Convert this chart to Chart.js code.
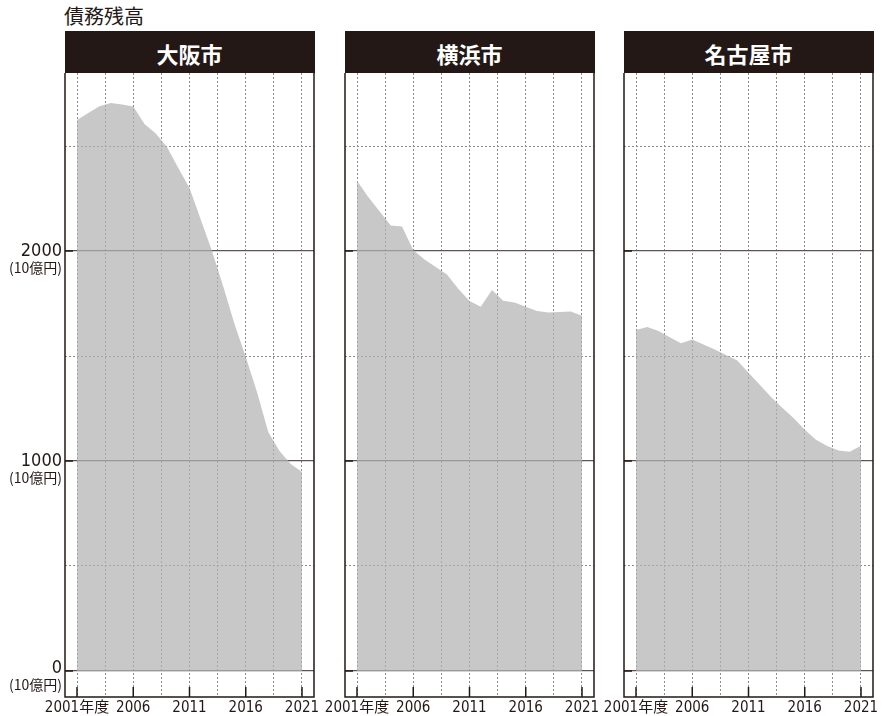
<!DOCTYPE html>
<html>
<head>
<meta charset="utf-8">
<script src="https://cdn.jsdelivr.net/npm/chart.js@4/dist/chart.umd.min.js"></script>
<style>
body { margin: 0; width: 888px; height: 716px; background: #fff; position: relative; overflow: hidden; font-family: "Noto Sans CJK JP", sans-serif; }
.title { position: absolute; left: 64px; top: 4px; font-size: 20px; line-height: 23px; color: #231815; }
.head { position: absolute; top: 31px; height: 42px; width: 250px; background: #231815; color: #fff; font-weight: bold; font-size: 22px; line-height: 44px; text-align: center; }
.box { position: absolute; top: 73px; height: 643px; }
</style>
</head>
<body>
<div class="title">債務残高</div>
<div class="head" style="left:64.5px">大阪市</div>
<div class="head" style="left:344.5px">横浜市</div>
<div class="head" style="left:623.5px">名古屋市</div>
<div class="box" style="left:0px;width:330px"><canvas id="c0"></canvas></div>
<div class="box" style="left:305px;width:305px"><canvas id="c1"></canvas></div>
<div class="box" style="left:584px;width:304px"><canvas id="c2"></canvas></div>
<script>
// fiscal years and debt balance (10億円)
const years = [2001, 2002, 2003, 2004, 2005, 2006, 2007, 2008, 2009, 2010, 2011,
               2012, 2013, 2014, 2015, 2016, 2017, 2018, 2019, 2020, 2021];
const osaka    = [2624, 2658, 2690, 2705, 2698, 2688, 2605, 2560, 2495, 2395, 2300,
                  2150, 2000, 1831, 1652, 1495, 1329, 1138, 1048, 986, 948];
const yokohama = [2335, 2258, 2189, 2122, 2117, 2005, 1960, 1924, 1888, 1821, 1762,
                  1735, 1814, 1763, 1755, 1735, 1714, 1707, 1710, 1712, 1692];
const nagoya   = [1624, 1638, 1619, 1589, 1561, 1579, 1555, 1531, 1505, 1479, 1420,
                  1363, 1305, 1254, 1205, 1149, 1101, 1071, 1050, 1044, 1073];
const cities = ['大阪市', '横浜市', '名古屋市'];

const xGrid = [2001, 2003.5, 2006, 2008.5, 2011, 2013.5, 2016, 2018.5, 2021];
const xLabelYears = [2001, 2006, 2011, 2016, 2021];
const yGrid = [0, 500, 1000, 1500, 2000, 2500];
const yLabels = [0, 1000, 2000];
const unit = '(10億円)';

const ink = '#231815';
const narrow = '"Liberation Sans Narrow", "DejaVu Sans Condensed", sans-serif';

const decor = {
  id: 'decor',
  afterDraw(chart, args, opts) {
    const { ctx, chartArea: a, scales: { x, y } } = chart;
    ctx.save();
    ctx.strokeStyle = ink;
    ctx.lineWidth = 1.5;
    ctx.beginPath();
    ctx.moveTo(a.left, a.top);
    ctx.lineTo(a.left, a.bottom);
    ctx.lineTo(a.right, a.bottom);
    ctx.lineTo(a.right, a.top);
    ctx.stroke();

    ctx.beginPath();
    xLabelYears.forEach(v => {
      const px = x.getPixelForValue(v);
      ctx.moveTo(px, a.bottom);
      ctx.lineTo(px, a.bottom - 10);
    });
    yLabels.forEach(v => {
      const py = y.getPixelForValue(v);
      ctx.moveTo(a.left, py);
      ctx.lineTo(a.left + 8, py);
    });
    ctx.stroke();

    if (opts.labels) {
      ctx.fillStyle = ink;
      ctx.textAlign = 'right';
      ctx.textBaseline = 'middle';
      yLabels.forEach(v => {
        const py = y.getPixelForValue(v) - (v === 0 ? 3 : 0);
        ctx.font = '18px ' + narrow;
        ctx.fillText(String(v), a.left - 3, py);
        ctx.font = '14px "Noto Sans CJK JP", sans-serif';
        ctx.fillText(unit, a.left - 3, py + 17);
      });
    }
    ctx.restore();
  }
};

function makeChart(id, values, yWidth, padRight, showLabels) {
  return new Chart(document.getElementById(id), {
    type: 'line',
    data: {
      datasets: [{
        data: years.map((yr, i) => ({ x: yr, y: values[i] })),
        fill: 'origin',
        backgroundColor: 'rgba(179,179,179,0.72)',
        borderWidth: 0,
        pointRadius: 0,
        tension: 0
      }]
    },
    plugins: [decor],
    options: {
      responsive: true,
      maintainAspectRatio: false,
      animation: false,
      layout: { padding: { top: 0, right: padRight, bottom: 0, left: 0 } },
      plugins: {
        legend: { display: false },
        tooltip: { enabled: false },
        decor: { labels: showLabels }
      },
      scales: {
        x: {
          type: 'linear',
          min: 1999.933,
          max: 2022.067,
          afterBuildTicks: s => { s.ticks = xGrid.map(v => ({ value: v })); },
          afterFit: s => { s.height = 19; },
          grid: { color: '#8a8a8a', lineWidth: 1, drawTicks: false },
          border: { display: false, dash: [2, 2] },
          ticks: {
            autoSkip: false,
            maxRotation: 0,
            padding: 2,
            color: ink,
            font: { family: narrow + ', "Noto Sans CJK JP"', size: 15 },
            callback: v => (v % 5 === 1 ? (v === 2001 ? '2001年度' : String(v)) : '')
          }
        },
        y: {
          min: -124,
          max: 2848,
          afterBuildTicks: s => { s.ticks = yGrid.map(v => ({ value: v })); },
          afterFit: s => { s.width = yWidth; },
          grid: {
            drawTicks: false,
            color: c => (c.tick && c.tick.value % 1000 === 0 ? '#5b5555' : '#8a8a8a'),
            lineWidth: c => (c.tick && c.tick.value % 1000 === 0 ? 1.3 : 1)
          },
          border: {
            display: false,
            dash: c => (c.tick && c.tick.value % 1000 === 0 ? [] : [2, 2])
          },
          ticks: { display: false }
        }
      }
    }
  });
}

makeChart('c0', osaka, 65, 16, true);
makeChart('c1', yokohama, 40, 16, false);
makeChart('c2', nagoya, 40, 15, false);
</script>
</body>
</html>
